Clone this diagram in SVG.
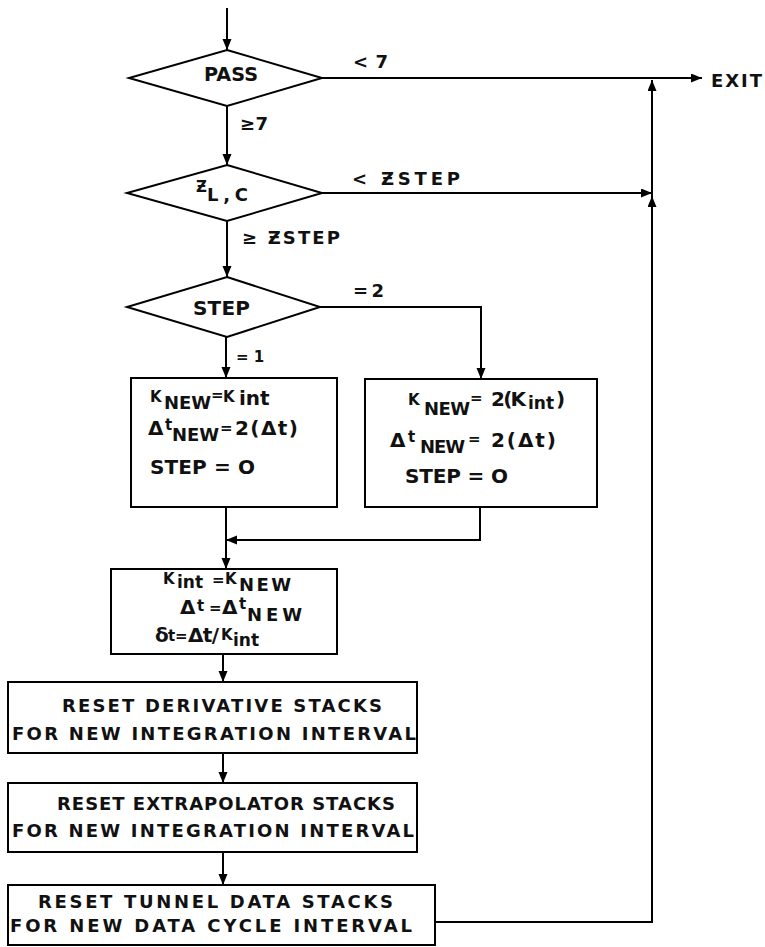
<svg xmlns="http://www.w3.org/2000/svg" width="765" height="947" viewBox="0 0 765 947">
<style>
.ln{stroke:#000;stroke-width:2;fill:none}
.nd{fill:#fff;stroke:#000;stroke-width:2}
text{font-family:"DejaVu Sans","Liberation Sans",sans-serif;font-weight:bold;fill:#111}
.t17{font-size:17px}
.t18{font-size:18px}
.t20{font-size:20px}
.sm{font-size:15px}
.bx{font-size:18px}
</style>
<defs>
<marker id="ah" markerUnits="userSpaceOnUse" markerWidth="12" markerHeight="10" refX="11" refY="4.5" orient="auto">
<path d="M0,0 L11,4.5 L0,9 z" fill="#000"/>
</marker>
</defs>
<rect width="765" height="947" fill="#fff"/>

<g id="connectors">
<path class="ln" d="M227,8 V50" marker-end="url(#ah)"/>
<path class="ln" d="M322,78 H702" marker-end="url(#ah)"/>
<path class="ln" d="M227,106 V165" marker-end="url(#ah)"/>
<path class="ln" d="M322,193 H652" marker-end="url(#ah)"/>
<path class="ln" d="M227,221 V277" marker-end="url(#ah)"/>
<path class="ln" d="M320,307 H481 V379" marker-end="url(#ah)"/>
<path class="ln" d="M226,337 V378" marker-end="url(#ah)"/>
<path class="ln" d="M226,507 V569" marker-end="url(#ah)"/>
<path class="ln" d="M480,507 V540 H226" marker-end="url(#ah)"/>
<path class="ln" d="M223,654 V682" marker-end="url(#ah)"/>
<path class="ln" d="M223,753 V783" marker-end="url(#ah)"/>
<path class="ln" d="M223,852 V885" marker-end="url(#ah)"/>
<path class="ln" d="M435,922 H652 V196" marker-end="url(#ah)"/>
<path class="ln" d="M652,196 V80" marker-end="url(#ah)"/>
<text class="t18" x="353" y="68" textLength="35" lengthAdjust="spacing">&lt; 7</text>
<text class="t18" x="711" y="87" textLength="51" lengthAdjust="spacing">EXIT</text>
<text class="t18" x="240" y="130" textLength="28" lengthAdjust="spacing">≥ 7</text>
<text class="t18" x="352" y="185" textLength="108" lengthAdjust="spacing">&lt;  ƵSTEP</text>
<text class="t18" x="242" y="244" textLength="98" lengthAdjust="spacing">≥ ƵSTEP</text>
<text class="t18" x="353" y="297" textLength="31" lengthAdjust="spacing">= 2</text>
<text x="236" y="362" font-size="15">= 1</text>
</g>

<g id="pass">
<polygon class="nd" points="227,50 322,78 227,106 129,78"/>
<text x="204" y="81" font-size="20" textLength="54" lengthAdjust="spacingAndGlyphs">PASS</text>
</g>

<g id="zlc">
<polygon class="nd" points="227,165 322,193 227,221 127,193"/>
<text class="sm" x="196" y="192">Ƶ</text>
<text class="t18" x="207" y="201" textLength="41" lengthAdjust="spacing">L,C</text>
</g>

<g id="step">
<polygon class="nd" points="227,277 320,307 227,337 127,307"/>
<text class="t20" x="193" y="315" textLength="57" lengthAdjust="spacing">STEP</text>
</g>

<g id="box-step1">
<rect class="nd" x="131" y="378" width="206" height="129"/>
<text class="sm" x="150" y="402">K</text>
<text class="t18" x="164" y="409">NEW</text>
<text class="sm" x="211" y="400">=</text>
<text class="sm" x="223" y="402">K</text>
<text class="t20" x="239" y="405">int</text>
<text class="t20" x="148" y="435">Δ</text>
<text class="sm" x="165" y="430">t</text>
<text class="t18" x="172" y="441">NEW</text>
<text class="sm" x="220" y="433">=</text>
<text class="t20" x="235" y="435" textLength="63" lengthAdjust="spacing">2(Δt)</text>
<text class="t20" x="150" y="474" textLength="105" lengthAdjust="spacing">STEP = O</text>
</g>

<g id="box-step2">
<rect class="nd" x="365" y="379" width="232" height="128"/>
<text class="sm" x="408" y="405">K</text>
<text class="t18" x="424" y="415" textLength="46" lengthAdjust="spacing">NEW</text>
<text class="sm" x="470" y="403">=</text>
<text class="t20" x="491" y="406" textLength="35" lengthAdjust="spacing">2(K</text>
<text class="t17" x="528" y="409">int</text>
<text class="t20" x="556" y="406">)</text>
<text class="t20" x="390" y="447">Δ</text>
<text class="sm" x="408" y="442">t</text>
<text class="t18" x="420" y="453" textLength="45" lengthAdjust="spacing">NEW</text>
<text class="sm" x="468" y="444">=</text>
<text class="t20" x="491" y="447" textLength="65" lengthAdjust="spacing">2(Δt)</text>
<text class="t20" x="405" y="483" textLength="103" lengthAdjust="spacing">STEP = O</text>
</g>

<g id="box-update">
<rect class="nd" x="111" y="569" width="226" height="85"/>
<text class="sm" x="163" y="584">K</text>
<text class="t17" x="177" y="588">int</text>
<text class="sm" x="212" y="585">=</text>
<text class="sm" x="225" y="584">K</text>
<text class="t18" x="239" y="591" textLength="52" lengthAdjust="spacing">NEW</text>
<text class="t20" x="180" y="614">Δ</text>
<text class="sm" x="197" y="611">t</text>
<text class="sm" x="209" y="613">=</text>
<text class="t20" x="222" y="614">Δ</text>
<text class="sm" x="239" y="609">t</text>
<text class="t18" x="247" y="621" textLength="55" lengthAdjust="spacing">NEW</text>
<text class="t20" x="155" y="642">δ</text>
<text class="sm" x="168" y="641">t</text>
<text class="sm" x="175" y="641">=</text>
<text class="t20" x="188" y="642" textLength="31" lengthAdjust="spacing">Δt/</text>
<text class="sm" x="221" y="640">K</text>
<text class="t17" x="233" y="646">int</text>
</g>

<g id="box-deriv">
<rect class="nd" x="8" y="682" width="409" height="71"/>
<text class="bx" x="62" y="712" textLength="320" lengthAdjust="spacing">RESET DERIVATIVE STACKS</text>
<text class="bx" x="12" y="740" textLength="404" lengthAdjust="spacing">FOR NEW INTEGRATION INTERVAL</text>
</g>

<g id="box-extrap">
<rect class="nd" x="8" y="783" width="409" height="69"/>
<text class="bx" x="57" y="810" textLength="338" lengthAdjust="spacing">RESET EXTRAPOLATOR STACKS</text>
<text class="bx" x="12" y="837" textLength="402" lengthAdjust="spacing">FOR NEW INTEGRATION INTERVAL</text>
</g>

<g id="box-tunnel">
<rect class="nd" x="8" y="885" width="427" height="60"/>
<text class="bx" x="38" y="908" textLength="355" lengthAdjust="spacing">RESET TUNNEL DATA STACKS</text>
<text class="bx" x="10" y="932" textLength="402" lengthAdjust="spacing">FOR NEW DATA CYCLE INTERVAL</text>
</g>
</svg>
